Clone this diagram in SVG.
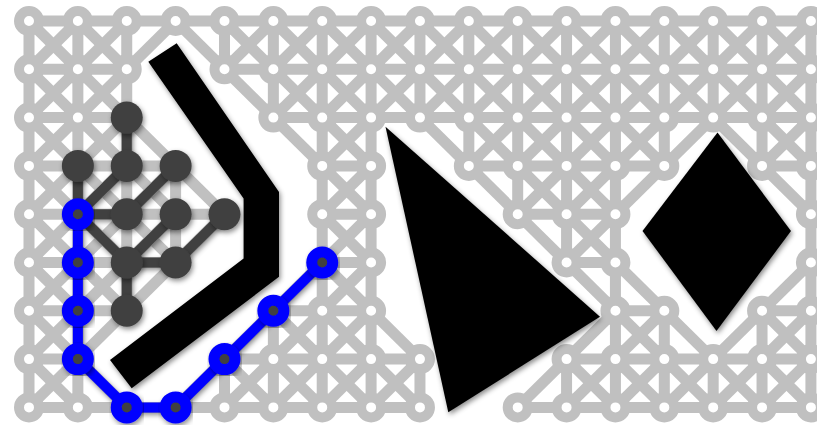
<svg xmlns="http://www.w3.org/2000/svg" width="817" height="427" viewBox="0 0 817 427">
<defs>
<filter id="sh" x="-30%" y="-30%" width="160%" height="160%"><feDropShadow dx="1.5" dy="2.5" stdDeviation="2.5" flood-color="#000" flood-opacity="0.45"/></filter>
</defs>
<style>
#lattice line{stroke:#c0c0c0;stroke-width:11;stroke-linecap:butt}
.g circle{fill:#fff;stroke:#c0c0c0;stroke-width:10}
#tree line{stroke:#404040;stroke-width:10}
#route polyline{fill:none;stroke:#0000ff;stroke-width:10;stroke-linejoin:round}
.dk circle{fill:#404040}
.bl circle{fill:#404040;stroke:#0000ff;stroke-width:11}
.obs{fill:#000}
</style>
<rect width="817" height="427" fill="#fff"/>
<g id="connectors">
<g id="lattice">
<line x1="29" y1="21" x2="810.92" y2="21"/>
<line x1="29" y1="69.3" x2="126.74" y2="69.3"/><line x1="224.48" y1="69.3" x2="810.92" y2="69.3"/>
<line x1="29" y1="117.6" x2="126.74" y2="117.6"/><line x1="273.35" y1="117.6" x2="810.92" y2="117.6"/>
<line x1="29" y1="165.9" x2="175.61" y2="165.9"/><line x1="322.22" y1="165.9" x2="371.09" y2="165.9"/><line x1="468.83" y1="165.9" x2="664.31" y2="165.9"/><line x1="762.05" y1="165.9" x2="810.92" y2="165.9"/>
<line x1="29" y1="214.2" x2="224.48" y2="214.2"/><line x1="322.22" y1="214.2" x2="371.09" y2="214.2"/><line x1="517.7" y1="214.2" x2="615.44" y2="214.2"/>
<line x1="29" y1="262.5" x2="175.61" y2="262.5"/><line x1="322.22" y1="262.5" x2="371.09" y2="262.5"/><line x1="566.57" y1="262.5" x2="615.44" y2="262.5"/>
<line x1="29" y1="310.8" x2="126.74" y2="310.8"/><line x1="273.35" y1="310.8" x2="371.09" y2="310.8"/><line x1="615.44" y1="310.8" x2="664.31" y2="310.8"/><line x1="762.05" y1="310.8" x2="810.92" y2="310.8"/>
<line x1="29" y1="359.1" x2="77.87" y2="359.1"/><line x1="224.48" y1="359.1" x2="419.96" y2="359.1"/><line x1="566.57" y1="359.1" x2="810.92" y2="359.1"/>
<line x1="29" y1="407.4" x2="419.96" y2="407.4"/><line x1="517.7" y1="407.4" x2="810.92" y2="407.4"/>
<line x1="29" y1="21" x2="29" y2="407.4"/>
<line x1="77.87" y1="21" x2="77.87" y2="407.4"/>
<line x1="126.74" y1="21" x2="126.74" y2="310.8"/>
<line x1="175.61" y1="165.9" x2="175.61" y2="262.5"/>
<line x1="224.48" y1="21" x2="224.48" y2="69.3"/><line x1="224.48" y1="359.1" x2="224.48" y2="407.4"/>
<line x1="273.35" y1="21" x2="273.35" y2="117.6"/><line x1="273.35" y1="310.8" x2="273.35" y2="407.4"/>
<line x1="322.22" y1="21" x2="322.22" y2="407.4"/>
<line x1="371.09" y1="21" x2="371.09" y2="407.4"/>
<line x1="419.96" y1="21" x2="419.96" y2="117.6"/><line x1="419.96" y1="359.1" x2="419.96" y2="407.4"/>
<line x1="468.83" y1="21" x2="468.83" y2="165.9"/>
<line x1="517.7" y1="21" x2="517.7" y2="214.2"/>
<line x1="566.57" y1="21" x2="566.57" y2="262.5"/><line x1="566.57" y1="359.1" x2="566.57" y2="407.4"/>
<line x1="615.44" y1="21" x2="615.44" y2="407.4"/>
<line x1="664.31" y1="21" x2="664.31" y2="165.9"/><line x1="664.31" y1="310.8" x2="664.31" y2="407.4"/>
<line x1="713.18" y1="21" x2="713.18" y2="117.6"/><line x1="713.18" y1="359.1" x2="713.18" y2="407.4"/>
<line x1="762.05" y1="21" x2="762.05" y2="165.9"/><line x1="762.05" y1="310.8" x2="762.05" y2="407.4"/>
<line x1="810.92" y1="21" x2="810.92" y2="407.4"/>
<line x1="29" y1="359.1" x2="77.87" y2="407.4"/>
<line x1="29" y1="310.8" x2="126.74" y2="407.4"/>
<line x1="29" y1="262.5" x2="77.87" y2="310.8"/>
<line x1="29" y1="214.2" x2="126.74" y2="310.8"/>
<line x1="29" y1="165.9" x2="126.74" y2="262.5"/>
<line x1="224.48" y1="359.1" x2="273.35" y2="407.4"/>
<line x1="29" y1="117.6" x2="175.61" y2="262.5"/>
<line x1="273.35" y1="359.1" x2="322.22" y2="407.4"/>
<line x1="29" y1="69.3" x2="175.61" y2="214.2"/>
<line x1="273.35" y1="310.8" x2="371.09" y2="407.4"/>
<line x1="29" y1="21" x2="224.48" y2="214.2"/>
<line x1="322.22" y1="310.8" x2="419.96" y2="407.4"/>
<line x1="77.87" y1="21" x2="126.74" y2="69.3"/>
<line x1="322.22" y1="262.5" x2="419.96" y2="359.1"/>
<line x1="322.22" y1="214.2" x2="371.09" y2="262.5"/>
<line x1="175.61" y1="21" x2="371.09" y2="214.2"/>
<line x1="224.48" y1="21" x2="371.09" y2="165.9"/>
<line x1="566.57" y1="359.1" x2="615.44" y2="407.4"/>
<line x1="273.35" y1="21" x2="371.09" y2="117.6"/>
<line x1="615.44" y1="359.1" x2="664.31" y2="407.4"/>
<line x1="322.22" y1="21" x2="713.18" y2="407.4"/>
<line x1="371.09" y1="21" x2="762.05" y2="407.4"/>
<line x1="419.96" y1="21" x2="615.44" y2="214.2"/>
<line x1="762.05" y1="359.1" x2="810.92" y2="407.4"/>
<line x1="468.83" y1="21" x2="615.44" y2="165.9"/>
<line x1="762.05" y1="310.8" x2="810.92" y2="359.1"/>
<line x1="517.7" y1="21" x2="664.31" y2="165.9"/>
<line x1="566.57" y1="21" x2="664.31" y2="117.6"/>
<line x1="615.44" y1="21" x2="810.92" y2="214.2"/>
<line x1="664.31" y1="21" x2="810.92" y2="165.9"/>
<line x1="713.18" y1="21" x2="810.92" y2="117.6"/>
<line x1="762.05" y1="21" x2="810.92" y2="69.3"/>
<line x1="77.87" y1="21" x2="29" y2="69.3"/>
<line x1="126.74" y1="21" x2="29" y2="117.6"/>
<line x1="175.61" y1="21" x2="29" y2="165.9"/>
<line x1="126.74" y1="117.6" x2="29" y2="214.2"/>
<line x1="273.35" y1="21" x2="224.48" y2="69.3"/><line x1="126.74" y1="165.9" x2="29" y2="262.5"/>
<line x1="322.22" y1="21" x2="273.35" y2="69.3"/><line x1="175.61" y1="165.9" x2="29" y2="310.8"/>
<line x1="371.09" y1="21" x2="273.35" y2="117.6"/><line x1="175.61" y1="214.2" x2="29" y2="359.1"/>
<line x1="419.96" y1="21" x2="322.22" y2="117.6"/><line x1="224.48" y1="214.2" x2="29" y2="407.4"/>
<line x1="468.83" y1="21" x2="322.22" y2="165.9"/>
<line x1="517.7" y1="21" x2="419.96" y2="117.6"/><line x1="371.09" y1="165.9" x2="322.22" y2="214.2"/>
<line x1="566.57" y1="21" x2="468.83" y2="117.6"/><line x1="371.09" y1="214.2" x2="175.61" y2="407.4"/>
<line x1="615.44" y1="21" x2="468.83" y2="165.9"/><line x1="371.09" y1="262.5" x2="224.48" y2="407.4"/>
<line x1="664.31" y1="21" x2="517.7" y2="165.9"/><line x1="371.09" y1="310.8" x2="273.35" y2="407.4"/>
<line x1="713.18" y1="21" x2="517.7" y2="214.2"/><line x1="371.09" y1="359.1" x2="322.22" y2="407.4"/>
<line x1="762.05" y1="21" x2="566.57" y2="214.2"/><line x1="419.96" y1="359.1" x2="371.09" y2="407.4"/>
<line x1="810.92" y1="21" x2="566.57" y2="262.5"/>
<line x1="810.92" y1="69.3" x2="762.05" y2="117.6"/>
<line x1="810.92" y1="117.6" x2="762.05" y2="165.9"/><line x1="615.44" y1="310.8" x2="517.7" y2="407.4"/>
<line x1="664.31" y1="310.8" x2="566.57" y2="407.4"/>
<line x1="664.31" y1="359.1" x2="615.44" y2="407.4"/>
<line x1="810.92" y1="262.5" x2="664.31" y2="407.4"/>
<line x1="810.92" y1="310.8" x2="713.18" y2="407.4"/>
<line x1="810.92" y1="359.1" x2="762.05" y2="407.4"/>
</g>
<g id="tree" filter="url(#sh)">
<line x1="77.87" y1="214.2" x2="77.87" y2="165.9"/>
<line x1="77.87" y1="214.2" x2="126.74" y2="165.9"/>
<line x1="77.87" y1="214.2" x2="126.74" y2="214.2"/>
<line x1="77.87" y1="214.2" x2="126.74" y2="262.5"/>
<line x1="126.74" y1="165.9" x2="126.74" y2="117.6"/>
<line x1="126.74" y1="214.2" x2="175.61" y2="165.9"/>
<line x1="126.74" y1="262.5" x2="175.61" y2="262.5"/>
<line x1="126.74" y1="262.5" x2="126.74" y2="310.8"/>
<line x1="126.74" y1="262.5" x2="175.61" y2="214.2"/>
<line x1="175.61" y1="262.5" x2="224.48" y2="214.2"/>
</g>
<g id="route" filter="url(#sh)">
<polyline points="77.87,214.2 77.87,262.5 77.87,310.8 77.87,359.1 126.74,407.4 175.61,407.4 224.48,359.1 273.35,310.8 322.22,262.5"/>
</g>
</g>
<g id="nodes">
<g class="g">
<g id="n0_0"><circle cx="29" cy="21" r="10"/></g>
<g id="n1_0"><circle cx="77.87" cy="21" r="10"/></g>
<g id="n2_0"><circle cx="126.74" cy="21" r="10"/></g>
<g id="n3_0"><circle cx="175.61" cy="21" r="10"/></g>
<g id="n4_0"><circle cx="224.48" cy="21" r="10"/></g>
<g id="n5_0"><circle cx="273.35" cy="21" r="10"/></g>
<g id="n6_0"><circle cx="322.22" cy="21" r="10"/></g>
<g id="n7_0"><circle cx="371.09" cy="21" r="10"/></g>
<g id="n8_0"><circle cx="419.96" cy="21" r="10"/></g>
<g id="n9_0"><circle cx="468.83" cy="21" r="10"/></g>
<g id="n10_0"><circle cx="517.7" cy="21" r="10"/></g>
<g id="n11_0"><circle cx="566.57" cy="21" r="10"/></g>
<g id="n12_0"><circle cx="615.44" cy="21" r="10"/></g>
<g id="n13_0"><circle cx="664.31" cy="21" r="10"/></g>
<g id="n14_0"><circle cx="713.18" cy="21" r="10"/></g>
<g id="n15_0"><circle cx="762.05" cy="21" r="10"/></g>
<g id="n16_0"><circle cx="810.92" cy="21" r="10"/></g>
<g id="n0_1"><circle cx="29" cy="69.3" r="10"/></g>
<g id="n1_1"><circle cx="77.87" cy="69.3" r="10"/></g>
<g id="n2_1"><circle cx="126.74" cy="69.3" r="10"/></g>
<g id="n4_1"><circle cx="224.48" cy="69.3" r="10"/></g>
<g id="n5_1"><circle cx="273.35" cy="69.3" r="10"/></g>
<g id="n6_1"><circle cx="322.22" cy="69.3" r="10"/></g>
<g id="n7_1"><circle cx="371.09" cy="69.3" r="10"/></g>
<g id="n8_1"><circle cx="419.96" cy="69.3" r="10"/></g>
<g id="n9_1"><circle cx="468.83" cy="69.3" r="10"/></g>
<g id="n10_1"><circle cx="517.7" cy="69.3" r="10"/></g>
<g id="n11_1"><circle cx="566.57" cy="69.3" r="10"/></g>
<g id="n12_1"><circle cx="615.44" cy="69.3" r="10"/></g>
<g id="n13_1"><circle cx="664.31" cy="69.3" r="10"/></g>
<g id="n14_1"><circle cx="713.18" cy="69.3" r="10"/></g>
<g id="n15_1"><circle cx="762.05" cy="69.3" r="10"/></g>
<g id="n16_1"><circle cx="810.92" cy="69.3" r="10"/></g>
<g id="n0_2"><circle cx="29" cy="117.6" r="10"/></g>
<g id="n1_2"><circle cx="77.87" cy="117.6" r="10"/></g>
<g id="n5_2"><circle cx="273.35" cy="117.6" r="10"/></g>
<g id="n6_2"><circle cx="322.22" cy="117.6" r="10"/></g>
<g id="n7_2"><circle cx="371.09" cy="117.6" r="10"/></g>
<g id="n8_2"><circle cx="419.96" cy="117.6" r="10"/></g>
<g id="n9_2"><circle cx="468.83" cy="117.6" r="10"/></g>
<g id="n10_2"><circle cx="517.7" cy="117.6" r="10"/></g>
<g id="n11_2"><circle cx="566.57" cy="117.6" r="10"/></g>
<g id="n12_2"><circle cx="615.44" cy="117.6" r="10"/></g>
<g id="n13_2"><circle cx="664.31" cy="117.6" r="10"/></g>
<g id="n14_2"><circle cx="713.18" cy="117.6" r="10"/></g>
<g id="n15_2"><circle cx="762.05" cy="117.6" r="10"/></g>
<g id="n16_2"><circle cx="810.92" cy="117.6" r="10"/></g>
<g id="n0_3"><circle cx="29" cy="165.9" r="10"/></g>
<g id="n6_3"><circle cx="322.22" cy="165.9" r="10"/></g>
<g id="n7_3"><circle cx="371.09" cy="165.9" r="10"/></g>
<g id="n9_3"><circle cx="468.83" cy="165.9" r="10"/></g>
<g id="n10_3"><circle cx="517.7" cy="165.9" r="10"/></g>
<g id="n11_3"><circle cx="566.57" cy="165.9" r="10"/></g>
<g id="n12_3"><circle cx="615.44" cy="165.9" r="10"/></g>
<g id="n13_3"><circle cx="664.31" cy="165.9" r="10"/></g>
<g id="n15_3"><circle cx="762.05" cy="165.9" r="10"/></g>
<g id="n16_3"><circle cx="810.92" cy="165.9" r="10"/></g>
<g id="n0_4"><circle cx="29" cy="214.2" r="10"/></g>
<g id="n6_4"><circle cx="322.22" cy="214.2" r="10"/></g>
<g id="n7_4"><circle cx="371.09" cy="214.2" r="10"/></g>
<g id="n10_4"><circle cx="517.7" cy="214.2" r="10"/></g>
<g id="n11_4"><circle cx="566.57" cy="214.2" r="10"/></g>
<g id="n12_4"><circle cx="615.44" cy="214.2" r="10"/></g>
<g id="n16_4"><circle cx="810.92" cy="214.2" r="10"/></g>
<g id="n0_5"><circle cx="29" cy="262.5" r="10"/></g>
<g id="n7_5"><circle cx="371.09" cy="262.5" r="10"/></g>
<g id="n11_5"><circle cx="566.57" cy="262.5" r="10"/></g>
<g id="n12_5"><circle cx="615.44" cy="262.5" r="10"/></g>
<g id="n16_5"><circle cx="810.92" cy="262.5" r="10"/></g>
<g id="n0_6"><circle cx="29" cy="310.8" r="10"/></g>
<g id="n6_6"><circle cx="322.22" cy="310.8" r="10"/></g>
<g id="n7_6"><circle cx="371.09" cy="310.8" r="10"/></g>
<g id="n12_6"><circle cx="615.44" cy="310.8" r="10"/></g>
<g id="n13_6"><circle cx="664.31" cy="310.8" r="10"/></g>
<g id="n15_6"><circle cx="762.05" cy="310.8" r="10"/></g>
<g id="n16_6"><circle cx="810.92" cy="310.8" r="10"/></g>
<g id="n0_7"><circle cx="29" cy="359.1" r="10"/></g>
<g id="n5_7"><circle cx="273.35" cy="359.1" r="10"/></g>
<g id="n6_7"><circle cx="322.22" cy="359.1" r="10"/></g>
<g id="n7_7"><circle cx="371.09" cy="359.1" r="10"/></g>
<g id="n8_7"><circle cx="419.96" cy="359.1" r="10"/></g>
<g id="n11_7"><circle cx="566.57" cy="359.1" r="10"/></g>
<g id="n12_7"><circle cx="615.44" cy="359.1" r="10"/></g>
<g id="n13_7"><circle cx="664.31" cy="359.1" r="10"/></g>
<g id="n14_7"><circle cx="713.18" cy="359.1" r="10"/></g>
<g id="n15_7"><circle cx="762.05" cy="359.1" r="10"/></g>
<g id="n16_7"><circle cx="810.92" cy="359.1" r="10"/></g>
<g id="n0_8"><circle cx="29" cy="407.4" r="10"/></g>
<g id="n1_8"><circle cx="77.87" cy="407.4" r="10"/></g>
<g id="n4_8"><circle cx="224.48" cy="407.4" r="10"/></g>
<g id="n5_8"><circle cx="273.35" cy="407.4" r="10"/></g>
<g id="n6_8"><circle cx="322.22" cy="407.4" r="10"/></g>
<g id="n7_8"><circle cx="371.09" cy="407.4" r="10"/></g>
<g id="n8_8"><circle cx="419.96" cy="407.4" r="10"/></g>
<g id="n10_8"><circle cx="517.7" cy="407.4" r="10"/></g>
<g id="n11_8"><circle cx="566.57" cy="407.4" r="10"/></g>
<g id="n12_8"><circle cx="615.44" cy="407.4" r="10"/></g>
<g id="n13_8"><circle cx="664.31" cy="407.4" r="10"/></g>
<g id="n14_8"><circle cx="713.18" cy="407.4" r="10"/></g>
<g id="n15_8"><circle cx="762.05" cy="407.4" r="10"/></g>
<g id="n16_8"><circle cx="810.92" cy="407.4" r="10"/></g>
</g>
<g class="dk">
<g id="n2_2" filter="url(#sh)"><circle cx="126.74" cy="117.6" r="16"/></g>
<g id="n1_3" filter="url(#sh)"><circle cx="77.87" cy="165.9" r="16"/></g>
<g id="n2_3" filter="url(#sh)"><circle cx="126.74" cy="165.9" r="16"/></g>
<g id="n3_3" filter="url(#sh)"><circle cx="175.61" cy="165.9" r="16"/></g>
<g id="n2_4" filter="url(#sh)"><circle cx="126.74" cy="214.2" r="16"/></g>
<g id="n3_4" filter="url(#sh)"><circle cx="175.61" cy="214.2" r="16"/></g>
<g id="n4_4" filter="url(#sh)"><circle cx="224.48" cy="214.2" r="16"/></g>
<g id="n2_5" filter="url(#sh)"><circle cx="126.74" cy="262.5" r="16"/></g>
<g id="n3_5" filter="url(#sh)"><circle cx="175.61" cy="262.5" r="16"/></g>
<g id="n2_6" filter="url(#sh)"><circle cx="126.74" cy="310.8" r="16"/></g>
</g>
<g class="bl">
<g id="n1_4" filter="url(#sh)"><circle cx="77.87" cy="214.2" r="10.5"/></g>
<g id="n1_5" filter="url(#sh)"><circle cx="77.87" cy="262.5" r="10.5"/></g>
<g id="n1_6" filter="url(#sh)"><circle cx="77.87" cy="310.8" r="10.5"/></g>
<g id="n1_7" filter="url(#sh)"><circle cx="77.87" cy="359.1" r="10.5"/></g>
<g id="n2_8" filter="url(#sh)"><circle cx="126.74" cy="407.4" r="10.5"/></g>
<g id="n3_8" filter="url(#sh)"><circle cx="175.61" cy="407.4" r="10.5"/></g>
<g id="n4_7" filter="url(#sh)"><circle cx="224.48" cy="359.1" r="10.5"/></g>
<g id="n5_6" filter="url(#sh)"><circle cx="273.35" cy="310.8" r="10.5"/></g>
<g id="n6_5" filter="url(#sh)"><circle cx="322.22" cy="262.5" r="10.5"/></g>
</g>
</g>
<g id="obstacles" filter="url(#sh)">
<polygon id="bar" class="obs" points="176.7,43.3 279,192 279,276.8 131.7,388.3 110,360 243.6,258.6 243.6,198.5 148.3,61.7"/>
<polygon id="triangle" class="obs" points="385.5,126.7 600,316.7 448.3,412.3"/>
<polygon id="diamond" class="obs" points="717.5,132.5 791,231 716.5,331 642.5,231"/>
</g>
</svg>
